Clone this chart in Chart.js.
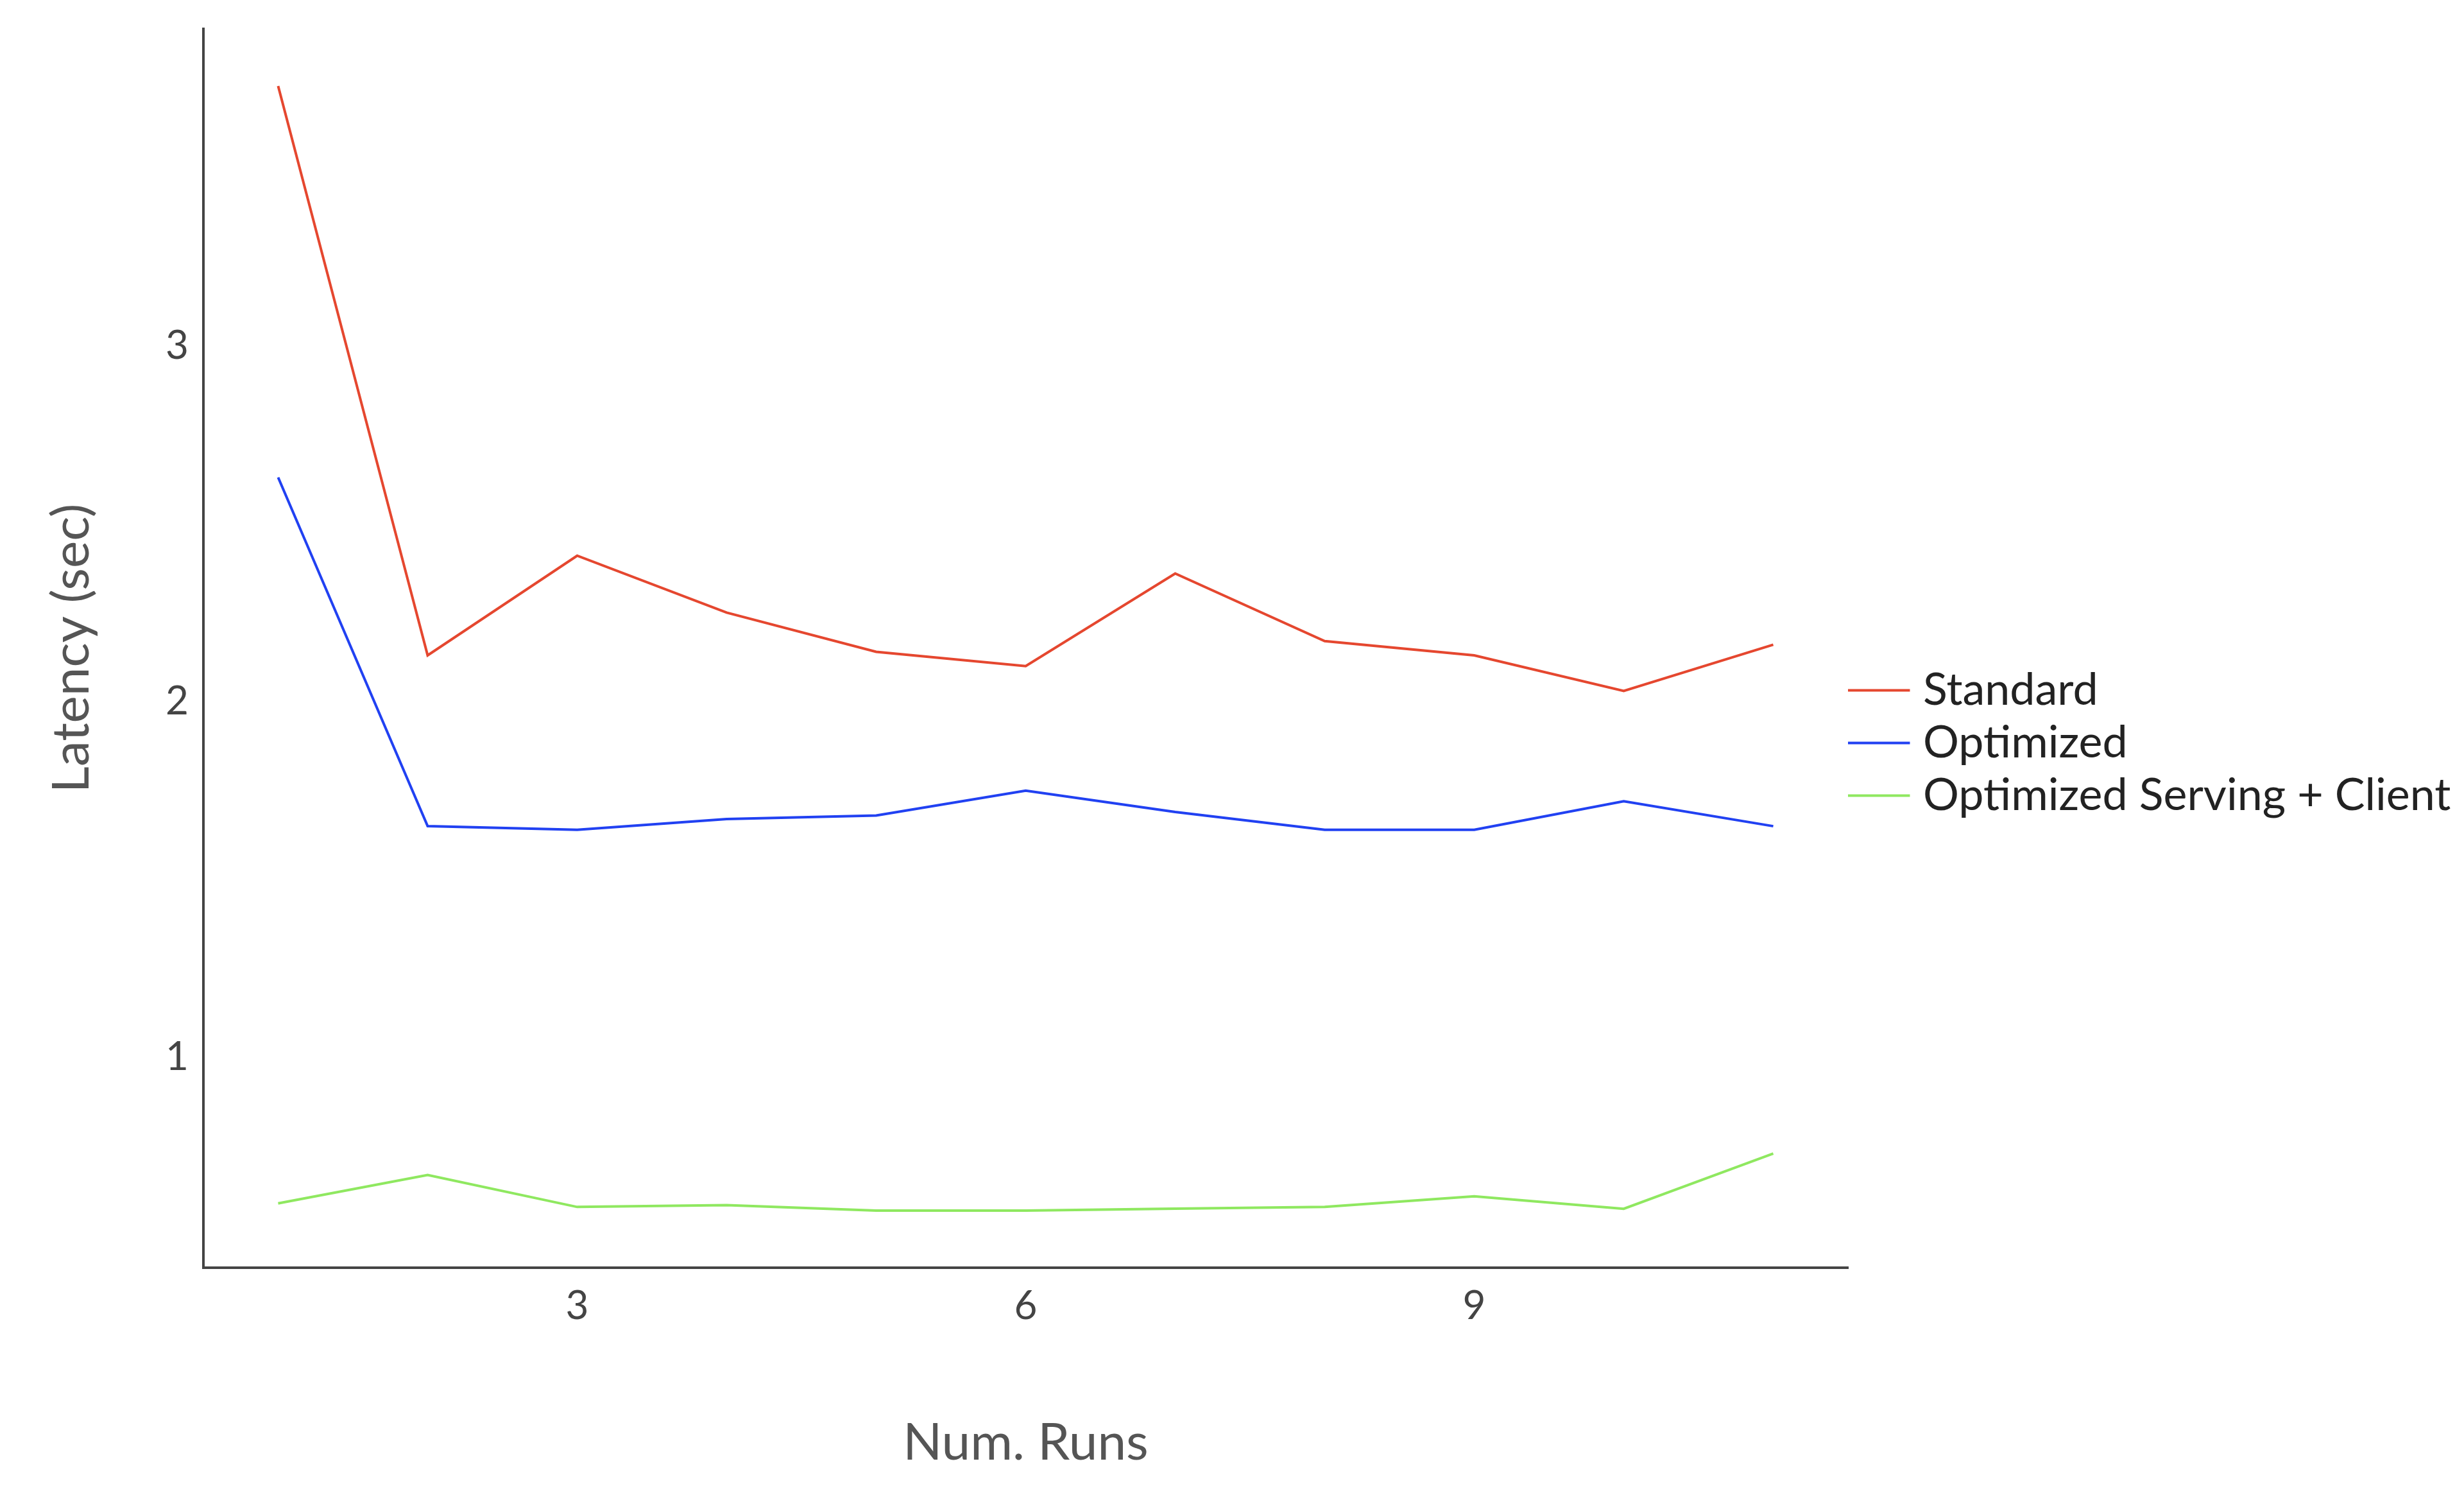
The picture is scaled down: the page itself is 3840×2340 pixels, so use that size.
<!DOCTYPE html>
<html><head><meta charset="utf-8">
<script src="https://cdn.jsdelivr.net/npm/chart.js@4"></script>
<style>html,body{margin:0;background:#fff}#w{width:3840px;height:2340px}</style>
</head><body><div id="w"><canvas id="c"></canvas></div>
<script>
const runs = [1,2,3,4,5,6,7,8,9,10,11];
const standard = [3.73,2.13,2.41,2.25,2.14,2.10,2.36,2.17,2.13,2.03,2.16];
const optimized = [2.63,1.65,1.64,1.67,1.68,1.75,1.69,1.64,1.64,1.72,1.65];
const servingClient = [0.59,0.67,0.58,0.585,0.57,0.57,0.575,0.58,0.61,0.575,0.73];
const xTicks = [3,6,9];
const yTicks = [1,2,3];
const mk = (label, vals, color) => ({label, data: runs.map((r,i)=>({x:r,y:vals[i]})), borderColor:color, backgroundColor:color, borderWidth:4, pointRadius:0, tension:0});
const font = "Lato, 'Open Sans', sans-serif";
new Chart(document.getElementById('c'), {
  type:'line',
  data:{datasets:[mk('Standard',standard,'#e5472f'),mk('Optimized',optimized,'#2141f2'),mk('Optimized Serving + Client',servingClient,'#8fe860')]},
  options:{responsive:true,maintainAspectRatio:false,animation:false,
    layout:{padding:{left:60,top:15,right:20,bottom:40}},
    plugins:{legend:{position:'right',labels:{usePointStyle:true,pointStyle:'line',boxWidth:70,font:{family:font,size:70},color:'#222',padding:12}},tooltip:{enabled:false}},
    scales:{
      x:{type:'linear',min:0.5,max:11.5,afterBuildTicks:s=>{s.ticks=xTicks.map(v=>({value:v}));},
        grid:{display:false,drawTicks:true,tickLength:15,tickColor:'#444'},border:{color:'#444',width:4},
        ticks:{font:{family:font,size:62},color:'#444',padding:8},
        title:{display:true,text:'Num. Runs',font:{family:font,size:80},color:'#555',padding:{top:120}}},
      y:{min:0.41,max:3.89,afterBuildTicks:s=>{s.ticks=yTicks.map(v=>({value:v}));},
        grid:{display:false,drawTicks:true,tickLength:15,tickColor:'#444'},border:{color:'#444',width:4},
        ticks:{font:{family:font,size:62},color:'#444',padding:8},
        title:{display:true,text:'Latency (sec)',font:{family:font,size:80},color:'#555',padding:{bottom:90}}}
    }}
});
</script></body></html>
